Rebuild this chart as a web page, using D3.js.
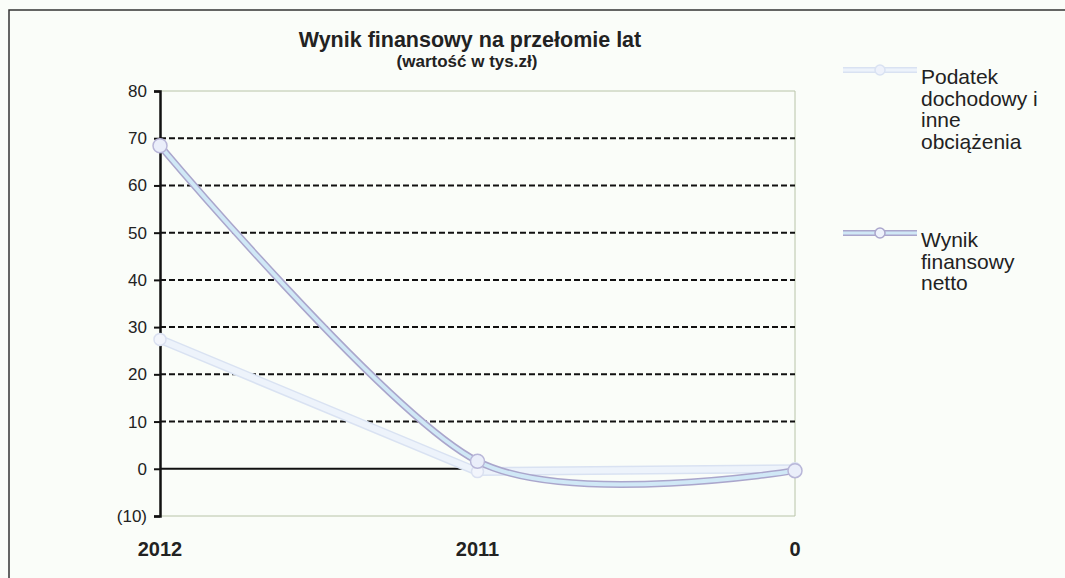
<!DOCTYPE html>
<html>
<head>
<meta charset="utf-8">
<script src="https://cdn.jsdelivr.net/npm/d3@7"></script>
<style>
  body { margin: 0; background: #fafdf9; }
  svg { display: block; font-family: "Liberation Sans", Arial, sans-serif; }
</style>
</head>
<body>
<svg id="chart"></svg>
<script>
const categories = ["2012", "2011", "0"];
const podatek = [27.4, -0.6, 0];
const wynik = [68.4, 1.6, -0.4];
const yTicks = [-10, 0, 10, 20, 30, 40, 50, 60, 70, 80];
const seriesNames = [["Podatek", "dochodowy i", "inne", "obciążenia"], ["Wynik", "finansowy", "netto"]];

const width = 1065, height = 578;
const margin = {left: 160, right: 270, top: 91, bottom: 62};

const svg = d3.select("#chart").attr("width", width).attr("height", height);

// frame
svg.append("path")
    .attr("d", "M9,578 V10 H1065")
    .attr("fill", "none")
    .attr("stroke", "#333")
    .attr("stroke-width", 1.5);

const x = d3.scalePoint()
    .domain(categories)
    .range([margin.left, width - margin.right]);

const y = d3.scaleLinear()
    .domain([-10, 80])
    .range([height - margin.bottom, margin.top]);

const x0 = x.range()[0], x1 = x.range()[1];

// plot border (top, right, bottom)
svg.append("path")
    .attr("d", `M${x0},${y(80)} H${x1} V${y(-10)} H${x0}`)
    .attr("fill", "none")
    .attr("stroke", "#b8c4a8")
    .attr("stroke-width", 1);

// gridlines
svg.append("g").selectAll("line")
    .data(yTicks.filter(d => d > 0 && d < 80))
  .enter().append("line")
    .attr("x1", x0).attr("x2", x1)
    .attr("y1", d => y(d)).attr("y2", d => y(d))
    .attr("stroke", "#111")
    .attr("stroke-width", 2)
    .attr("stroke-dasharray", "6,3");

svg.append("line")
    .attr("x1", x0).attr("x2", x1)
    .attr("y1", y(0)).attr("y2", y(0))
    .attr("stroke", "#111")
    .attr("stroke-width", 2);

// y axis
const yAxis = svg.append("g")
    .attr("transform", `translate(${x0},0)`)
    .call(d3.axisLeft(y).tickValues(yTicks).tickSize(6).tickPadding(7)
        .tickFormat(d => d < 0 ? `(${-d})` : d));
yAxis.select(".domain").attr("stroke", "#111").attr("stroke-width", 2.5);
yAxis.selectAll(".tick line").attr("stroke", "#111").attr("stroke-width", 2);
yAxis.selectAll("text").attr("font-size", 17).attr("fill", "#222")
    .attr("font-family", "Liberation Sans, Arial, sans-serif");

// x labels
svg.append("g").selectAll("text")
    .data(categories)
  .enter().append("text")
    .attr("x", d => x(d))
    .attr("y", 556)
    .attr("text-anchor", "middle")
    .attr("font-size", 20)
    .attr("font-weight", "bold")
    .attr("fill", "#222")
    .text(d => d);

// series
const lineLin = d3.line().x((d, i) => x(categories[i])).y(d => y(d));
const lineSmooth = d3.line().x((d, i) => x(categories[i])).y(d => y(d))
    .curve(d3.curveCardinal.tension(0.15));

function tube(g, data, gen, outer, inner, w) {
    g.append("path").attr("d", gen(data)).attr("fill", "none")
        .attr("stroke", outer).attr("stroke-width", w).attr("stroke-linecap", "round");
    g.append("path").attr("d", gen(data)).attr("fill", "none")
        .attr("stroke", inner).attr("stroke-width", w - 3).attr("stroke-linecap", "round");
}

const gP = svg.append("g");
tube(gP, podatek, lineLin, "#d9e2f2", "#edf3fb", 9);
gP.selectAll("circle").data(podatek).enter().append("circle")
    .attr("cx", (d, i) => x(categories[i])).attr("cy", d => y(d)).attr("r", 6)
    .attr("fill", "#f2f5fc").attr("stroke", "#dae0f0").attr("stroke-width", 1.5);

const gW = svg.append("g");
tube(gW, wynik, lineSmooth, "#aaa6cc", "#d0e8f6", 7);
gW.selectAll("circle").data(wynik).enter().append("circle")
    .attr("cx", (d, i) => x(categories[i])).attr("cy", d => y(d)).attr("r", 7)
    .attr("fill", "#eaeefa").attr("stroke", "#b8b6d8").attr("stroke-width", 1.5);

// title
svg.append("text")
    .attr("x", 470).attr("y", 47)
    .attr("text-anchor", "middle")
    .attr("font-size", 21.5)
    .attr("font-weight", "bold")
    .attr("fill", "#222")
    .text("Wynik finansowy na przełomie lat");
svg.append("text")
    .attr("x", 467).attr("y", 67)
    .attr("text-anchor", "middle")
    .attr("font-size", 17)
    .attr("font-weight", "bold")
    .attr("fill", "#222")
    .text("(wartość w tys.zł)");

// legend
const legendY = [70, 233];
const legendStyle = [["#d9e2f2", "#edf3fb"], ["#aaa6cc", "#d0e8f6"]];
seriesNames.forEach((lines, k) => {
    const g = svg.append("g").attr("transform", `translate(843,${legendY[k]})`);
    g.append("line").attr("x1", 0).attr("x2", 74).attr("stroke", legendStyle[k][0]).attr("stroke-width", 6);
    g.append("line").attr("x1", 0).attr("x2", 74).attr("stroke", legendStyle[k][1]).attr("stroke-width", 3);
    g.append("circle").attr("cx", 37).attr("r", 5)
        .attr("fill", "#eef2fb").attr("stroke", legendStyle[k][0]).attr("stroke-width", 1.5);
    g.append("text")
        .attr("x", 78).attr("y", 14)
        .attr("font-size", 21)
        .attr("fill", "#222")
      .selectAll("tspan").data(lines).enter().append("tspan")
        .attr("x", 78).attr("dy", (d, i) => i === 0 ? 0 : 21.7)
        .text(d => d);
});
</script>
</body>
</html>
